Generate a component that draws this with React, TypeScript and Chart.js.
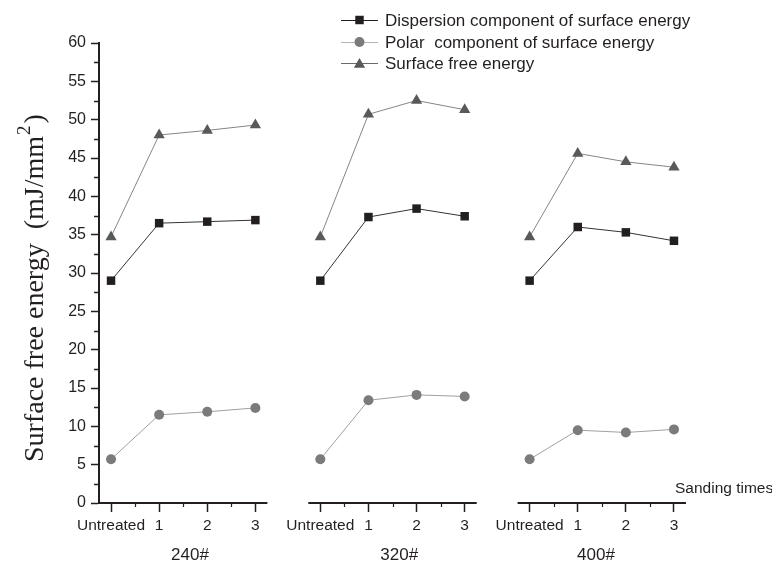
import React, { useEffect, useRef } from 'react';
import { Chart, registerables } from 'chart.js';

Chart.register(...registerables);

const CATEGORIES = ['Untreated', '1', '2', '3'];
const GROUPS = ['240#', '320#', '400#'];
const SERIES_NAMES = [
  'Dispersion component of surface energy',
  'Polar  component of surface energy',
  'Surface free energy',
];
const DISPERSION = [29.0, 36.5, 36.7, 36.9, 29.0, 37.3, 38.4, 37.4, 29.0, 36.0, 35.3, 34.2];
const POLAR = [5.7, 11.5, 11.9, 12.4, 5.7, 13.4, 14.1, 13.9, 5.7, 9.5, 9.2, 9.6];
const SURFACE = [34.7, 48.0, 48.6, 49.3, 34.7, 50.7, 52.5, 51.3, 34.7, 45.6, 44.5, 43.8];
const Y_MIN = 0;
const Y_MAX = 60;
const Y_STEP = 5;
const X_TITLE = 'Sanding times';
const Y_TITLE_MAIN = 'Surface free energy  (mJ/mm';
const Y_TITLE_SUP = '2';
const Y_TITLE_END = ')';

const GROUP_STRIDE = 4.35;
const INK = '#231f20';
const SANS = '"Liberation Sans", Arial, sans-serif';
const SERIF = '"Liberation Serif", "Times New Roman", serif';

const STYLES = [
  { marker: 'rect', radius: 6, fill: '#231f20', line: '#333333', legendLine: '#231f20' },
  { marker: 'circle', radius: 5, fill: '#7b7b7d', line: '#a0a0a0', legendLine: '#b5b5b5' },
  { marker: 'triangle', radius: 6.5, fill: '#58595b', line: '#858585', legendLine: '#6a6a6a' },
];

function drawMarker(ctx: CanvasRenderingContext2D, kind: string, x: number, y: number, r: number, color: string) {
  ctx.save();
  ctx.fillStyle = color;
  ctx.beginPath();
  if (kind === 'rect') {
    const s = r * Math.SQRT1_2;
    ctx.rect(x - s, y - s, 2 * s, 2 * s);
  } else if (kind === 'circle') {
    ctx.arc(x, y, r, 0, Math.PI * 2);
  } else {
    ctx.moveTo(x, y - r);
    ctx.lineTo(x + r * 0.866, y + r / 2);
    ctx.lineTo(x - r * 0.866, y + r / 2);
    ctx.closePath();
  }
  ctx.fill();
  ctx.restore();
}

export default function App() {
  const ref = useRef<HTMLCanvasElement>(null);

  useEffect(() => {
    if (!ref.current) return;
    const xs = GROUPS.flatMap((_, g) => CATEGORIES.map((_, i) => g * GROUP_STRIDE + i));
    const tickPositions = xs.slice();
    const toPts = (arr: number[]) => arr.map((y, k) => ({ x: xs[k], y }));
    const seriesData = [DISPERSION, POLAR, SURFACE];

    const datasets = seriesData.map((arr, s) => ({
      label: SERIES_NAMES[s],
      data: toPts(arr),
      borderColor: STYLES[s].line,
      borderWidth: 1,
      backgroundColor: STYLES[s].fill,
      pointStyle: STYLES[s].marker,
      pointRadius: STYLES[s].radius,
      pointHoverRadius: STYLES[s].radius,
      pointBackgroundColor: STYLES[s].fill,
      pointBorderColor: STYLES[s].fill,
      pointBorderWidth: 0,
      fill: false,
      tension: 0,
      segment: {
        borderColor: (c: any) =>
          c.p1DataIndex % CATEGORIES.length === 0 ? 'rgba(0,0,0,0)' : STYLES[s].line,
      },
    }));

    const decor = {
      id: 'decor',
      afterDraw(chart: any) {
        const ctx: CanvasRenderingContext2D = chart.ctx;
        const xS = chart.scales.x;
        const yS = chart.scales.y;
        const area = chart.chartArea;
        ctx.save();
        ctx.strokeStyle = INK;
        // y minor ticks
        ctx.lineWidth = 1.5;
        for (let v = Y_MIN + Y_STEP / 2; v < Y_MAX; v += Y_STEP) {
          const py = Math.round(yS.getPixelForValue(v)) + 0.5;
          ctx.beginPath();
          ctx.moveTo(area.left - 5, py);
          ctx.lineTo(area.left, py);
          ctx.stroke();
        }
        // broken x axis segments
        ctx.lineWidth = 2;
        GROUPS.forEach((_, g) => {
          const x0 = xS.getPixelForValue(g * GROUP_STRIDE - 0.25);
          const x1 = xS.getPixelForValue(g * GROUP_STRIDE + CATEGORIES.length - 0.75);
          ctx.beginPath();
          ctx.moveTo(x0 - (g === 0 ? 1 : 0), area.bottom);
          ctx.lineTo(x1, area.bottom);
          ctx.stroke();
          // minor ticks
          ctx.save();
          ctx.lineWidth = 1.2;
          for (let i = 0; i < CATEGORIES.length - 1; i++) {
            const px = Math.round(xS.getPixelForValue(g * GROUP_STRIDE + i + 0.5)) + 0.5;
            ctx.beginPath();
            ctx.moveTo(px, area.bottom);
            ctx.lineTo(px, area.bottom + 4);
            ctx.stroke();
          }
          ctx.restore();
        });
        // group labels
        const groupOffsets = [1.64, 1.64, 1.38];
        ctx.fillStyle = INK;
        ctx.font = `17px ${SANS}`;
        ctx.textAlign = 'center';
        ctx.textBaseline = 'alphabetic';
        GROUPS.forEach((name, g) => {
          ctx.fillText(name, xS.getPixelForValue(g * GROUP_STRIDE + groupOffsets[g]), 560);
        });
        // x axis title
        ctx.font = `15.5px ${SANS}`;
        ctx.textAlign = 'left';
        ctx.fillText(X_TITLE, 675, 493);
        // y axis title
        ctx.save();
        ctx.translate(43, 462);
        ctx.rotate(-Math.PI / 2);
        ctx.font = `28px ${SERIF}`;
        ctx.textAlign = 'left';
        ctx.fillText(Y_TITLE_MAIN, 0, 0);
        let w = ctx.measureText(Y_TITLE_MAIN).width;
        ctx.font = `19px ${SERIF}`;
        ctx.fillText(Y_TITLE_SUP, w + 1, -13);
        w += ctx.measureText(Y_TITLE_SUP).width + 3;
        ctx.font = `28px ${SERIF}`;
        ctx.fillText(Y_TITLE_END, w, 0);
        ctx.restore();
        // legend
        const rows = [20, 42, 63];
        SERIES_NAMES.forEach((name, s) => {
          const y = rows[s];
          ctx.strokeStyle = STYLES[s].legendLine;
          ctx.lineWidth = 1;
          ctx.beginPath();
          ctx.moveTo(341, y + 0.5);
          ctx.lineTo(378, y + 0.5);
          ctx.stroke();
          const my = STYLES[s].marker === 'triangle' ? y + 1.5 : y;
          drawMarker(ctx, STYLES[s].marker, 359.5, my, STYLES[s].radius, STYLES[s].fill);
          ctx.fillStyle = INK;
          ctx.font = `17px ${SANS}`;
          ctx.textAlign = 'left';
          ctx.textBaseline = 'middle';
          ctx.fillText(name, 385, y + 1);
        });
        ctx.restore();
      },
    };

    const chart = new Chart(ref.current, {
      type: 'line',
      data: { datasets: datasets as any },
      options: {
        responsive: false,
        animation: false,
        devicePixelRatio: 1,
        layout: { padding: { left: 0, top: 43, right: 86, bottom: 0 } },
        plugins: {
          legend: { display: false },
          title: { display: false },
          tooltip: { enabled: false },
        },
        scales: {
          x: {
            type: 'linear',
            min: -0.25,
            max: (GROUPS.length - 1) * GROUP_STRIDE + CATEGORIES.length - 0.75,
            afterBuildTicks: (scale: any) => {
              scale.ticks = tickPositions.map((v) => ({ value: v }));
            },
            afterFit: (scale: any) => {
              scale.height = 58;
            },
            ticks: {
              autoSkip: false,
              maxRotation: 0,
              minRotation: 0,
              padding: 4,
              color: INK,
              font: { family: SANS, size: 15.5 },
              callback: (_v: any, i: number) => CATEGORIES[i % CATEGORIES.length],
            },
            grid: {
              drawOnChartArea: false,
              drawTicks: true,
              tickLength: 9,
              tickWidth: 1.5,
              tickColor: INK,
            },
            border: { display: false },
          },
          y: {
            min: Y_MIN,
            max: Y_MAX,
            afterFit: (scale: any) => {
              scale.width = 99;
            },
            ticks: {
              stepSize: Y_STEP,
              padding: 5,
              color: INK,
              font: { family: SANS, size: 16 },
            },
            grid: {
              drawOnChartArea: false,
              drawTicks: true,
              tickLength: 8,
              tickWidth: 1.5,
              tickColor: INK,
            },
            border: { display: true, color: INK, width: 2 },
          },
        },
      },
      plugins: [decor],
    });
    return () => chart.destroy();
  }, []);

  return (
    <div style={{ position: 'fixed', left: 0, top: 0, width: 772, height: 561, background: '#fff' }}>
      <canvas ref={ref} width={772} height={561} style={{ width: 772, height: 561, display: 'block' }} />
    </div>
  );
}
